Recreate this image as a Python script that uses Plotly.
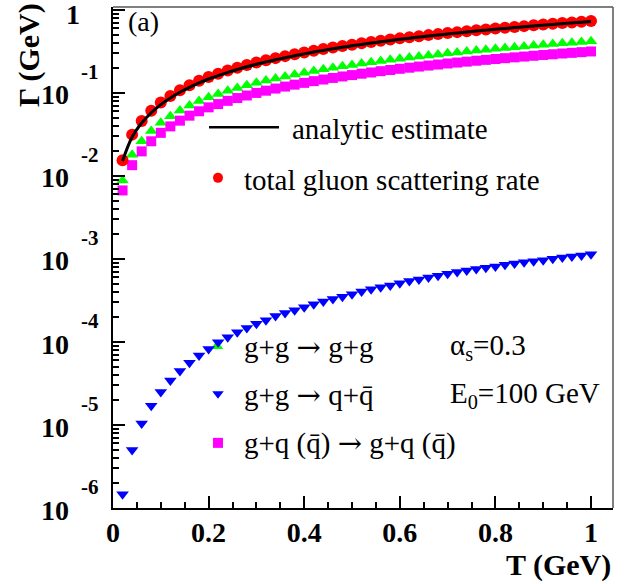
import plotly.graph_objects as go

# Temperature grid (GeV)
T = [0.02, 0.04, 0.06, 0.08, 0.10, 0.12, 0.14, 0.16, 0.18, 0.20,
     0.22, 0.24, 0.26, 0.28, 0.30, 0.32, 0.34, 0.36, 0.38, 0.40,
     0.42, 0.44, 0.46, 0.48, 0.50, 0.52, 0.54, 0.56, 0.58, 0.60,
     0.62, 0.64, 0.66, 0.68, 0.70, 0.72, 0.74, 0.76, 0.78, 0.80,
     0.82, 0.84, 0.86, 0.88, 0.90, 0.92, 0.94, 0.96, 0.98, 1.00]

# total gluon scattering rate (GeV)
rate_total = [0.0155, 0.0315, 0.046, 0.061, 0.077, 0.092, 0.108, 0.124, 0.140, 0.156,
              0.171, 0.187, 0.202, 0.217, 0.233, 0.248, 0.263, 0.278, 0.293, 0.308,
              0.323, 0.338, 0.353, 0.368, 0.382, 0.397, 0.411, 0.426, 0.440, 0.455,
              0.469, 0.484, 0.498, 0.512, 0.527, 0.541, 0.555, 0.569, 0.583, 0.597,
              0.611, 0.625, 0.639, 0.653, 0.667, 0.681, 0.695, 0.708, 0.722, 0.736]

# g+g -> g+g
rate_gg_gg = [0.0088, 0.0180, 0.0262, 0.0348, 0.0439, 0.0524, 0.0616, 0.0707, 0.0798, 0.0889,
              0.0975, 0.1066, 0.1151, 0.1237, 0.1328, 0.1414, 0.1499, 0.1585, 0.1670, 0.1756,
              0.1841, 0.1927, 0.2012, 0.2098, 0.2177, 0.2263, 0.2343, 0.2428, 0.2508, 0.2594,
              0.2673, 0.2759, 0.2839, 0.2918, 0.3004, 0.3084, 0.3164, 0.3243, 0.3323, 0.3403,
              0.3483, 0.3563, 0.3642, 0.3722, 0.3802, 0.3882, 0.3962, 0.4036, 0.4115, 0.4195]

# g+q(qbar) -> g+q(qbar)
rate_gq_gq = [0.0067, 0.0135, 0.0198, 0.0262, 0.0331, 0.0396, 0.0464, 0.0533, 0.0602, 0.0671,
              0.0735, 0.0804, 0.0869, 0.0933, 0.1002, 0.1066, 0.1131, 0.1195, 0.1260, 0.1324,
              0.1389, 0.1453, 0.1518, 0.1582, 0.1643, 0.1707, 0.1767, 0.1832, 0.1892, 0.1957,
              0.2017, 0.2081, 0.2141, 0.2202, 0.2266, 0.2326, 0.2387, 0.2447, 0.2507, 0.2567,
              0.2627, 0.2688, 0.2748, 0.2808, 0.2868, 0.2928, 0.2989, 0.3044, 0.3105, 0.3165]

# g+g -> q+qbar
rate_gg_qq = [1.46e-6, 4.99e-6, 1.04e-5, 1.70e-5, 2.50e-5, 3.44e-5, 4.46e-5, 5.61e-5, 6.86e-5, 8.24e-5,
              9.90e-5, 1.14e-4, 1.31e-4, 1.47e-4, 1.66e-4, 1.83e-4, 2.05e-4, 2.24e-4, 2.42e-4, 2.62e-4,
              2.85e-4, 3.07e-4, 3.30e-4, 3.52e-4, 3.76e-4, 4.05e-4, 4.31e-4, 4.56e-4, 4.78e-4, 5.09e-4,
              5.42e-4, 5.68e-4, 6.00e-4, 6.29e-4, 6.64e-4, 6.95e-4, 7.28e-4, 7.55e-4, 7.84e-4, 8.13e-4,
              8.51e-4, 8.83e-4, 9.16e-4, 9.42e-4, 9.69e-4, 1.005e-3, 1.04e-3, 1.07e-3, 1.10e-3, 1.14e-3]

# analytic estimate (GeV)
rate_analytic = [0.0152, 0.0295, 0.0435, 0.0578, 0.0725, 0.0872, 0.1020, 0.1170, 0.1325, 0.1475,
                 0.162, 0.177, 0.192, 0.207, 0.222, 0.237, 0.252, 0.266, 0.281, 0.296,
                 0.311, 0.326, 0.341, 0.355, 0.370, 0.385, 0.399, 0.414, 0.428, 0.443,
                 0.457, 0.472, 0.486, 0.500, 0.515, 0.529, 0.543, 0.558, 0.572, 0.586,
                 0.600, 0.614, 0.628, 0.642, 0.656, 0.670, 0.684, 0.698, 0.712, 0.726]

decade_exponents = [-1, -2, -3, -4, -5, -6]

SERIF = "Liberation Serif"
RED = "#ff0000"
GREEN = "#00ff00"
MAGENTA = "#ff00ff"
BLUE = "#0000ff"

fig = go.Figure()

# key glyphs live on a hidden unit layer underneath the data layer
key_glyphs = [
    (0.21, 0.659, "circle", 10, RED),
    (0.208, 0.323, "triangle-up", 11, GREEN),
    (0.21, 0.228, "triangle-down", 10, BLUE),
    (0.21, 0.130, "square", 10, MAGENTA),
]
for gx, gy, sym, sz, col in key_glyphs:
    fig.add_trace(go.Scatter(x=[gx], y=[gy], mode="markers", xaxis="x", yaxis="y",
                             marker=dict(symbol=sym, size=sz, color=col, line=dict(width=0)),
                             showlegend=False, hoverinfo="skip"))

# data layer
fig.add_trace(go.Scatter(x=T, y=rate_gg_gg, mode="markers", xaxis="x2", yaxis="y2",
                         marker=dict(symbol="triangle-up", size=11, color=GREEN, line=dict(width=0)),
                         showlegend=False))
fig.add_trace(go.Scatter(x=T, y=rate_gq_gq, mode="markers", xaxis="x2", yaxis="y2",
                         marker=dict(symbol="square", size=10, color=MAGENTA, line=dict(width=0)),
                         showlegend=False))
fig.add_trace(go.Scatter(x=T, y=rate_gg_qq, mode="markers", xaxis="x2", yaxis="y2",
                         marker=dict(symbol="triangle-down", size=11, color=BLUE, line=dict(width=0)),
                         showlegend=False))
fig.add_trace(go.Scatter(x=T, y=rate_total, mode="markers", xaxis="x2", yaxis="y2",
                         marker=dict(symbol="circle", size=12, color=RED, line=dict(width=0)),
                         showlegend=False))
fig.add_trace(go.Scatter(x=T, y=rate_analytic, mode="lines", xaxis="x2", yaxis="y2",
                         line=dict(color="black", width=3, shape="spline"),
                         showlegend=False))

minor_y = [k * 10.0 ** n for n in range(-6, 0) for k in range(2, 10)]

fig.update_layout(
    width=642, height=584, autosize=False,
    margin=dict(l=113, r=29, t=7, b=76, pad=0),
    paper_bgcolor="white", plot_bgcolor="white",
    font=dict(family=SERIF, color="black"),
    xaxis=dict(visible=False, range=[0, 1], fixedrange=True),
    yaxis=dict(visible=False, range=[0, 1], fixedrange=True),
    xaxis2=dict(overlaying="x", anchor="y2", side="bottom", range=[0, 1.046],
                showgrid=False, zeroline=False,
                showline=True, linecolor="black", linewidth=2,
                ticks="inside", ticklen=12, tickwidth=1.5, tickcolor="black",
                tick0=0, dtick=0.2,
                tickfont=dict(family=SERIF, size=28, weight="bold", color="black"),
                ticklabelstandoff=-2,
                minor=dict(dtick=0.05, ticks="inside", ticklen=6, tickwidth=1.5,
                           tickcolor="black", showgrid=False)),
    yaxis2=dict(overlaying="y", anchor="x2", side="left", type="log", range=[-6, 0.036],
                showgrid=False, zeroline=False,
                showline=True, linecolor="black", linewidth=2,
                ticks="inside", ticklen=12, tickwidth=1.5, tickcolor="black",
                tickvals=[10.0 ** e for e in range(-6, 1)], showticklabels=False,
                minor=dict(tickvals=minor_y, ticks="inside", ticklen=6, tickwidth=1.5,
                           tickcolor="black", showgrid=False)),
)

# thin upper and right frame edges
fig.add_shape(type="line", xref="paper", yref="paper", x0=0, x1=1, y0=1, y1=1,
              line=dict(color="#555555", width=1.5))
fig.add_shape(type="line", xref="paper", yref="paper", x0=1, x1=1, y0=0, y1=1,
              line=dict(color="#555555", width=1.5))

# key line sample
fig.add_shape(type="line", xref="paper", yref="paper", x0=0.192, x1=0.332, y0=0.760, y1=0.760,
              line=dict(color="black", width=2.5))

ann = []
# decade labels on the log axis
for e in decade_exponents:
    ann.append(dict(text="<b>10</b>", xref="paper", yref="y2", x=0, y=e,
                    xanchor="right", yanchor="middle", xshift=-42, yshift=-2,
                    showarrow=False, font=dict(family=SERIF, size=28, color="black")))
    ann.append(dict(text="<b>%d</b>" % e, xref="paper", yref="y2", x=0, y=e,
                    xanchor="left", yanchor="middle", xshift=-34, yshift=21,
                    showarrow=False, font=dict(family=SERIF, size=21, color="black")))
ann.append(dict(text="<b>1</b>", xref="paper", yref="y2", x=0, y=0,
                xanchor="right", yanchor="middle", xshift=-31, yshift=-5,
                showarrow=False, font=dict(family=SERIF, size=28, color="black")))

# axis titles
ann.append(dict(text="<b>Γ (GeV)</b>", xref="paper", yref="paper", x=0, y=1,
                xanchor="center", yanchor="top", xshift=-84, yshift=6, textangle=-90,
                showarrow=False, font=dict(family=SERIF, size=30, color="black")))
ann.append(dict(text="<b>T (GeV)</b>", xref="paper", yref="paper", x=1, y=0,
                xanchor="right", yanchor="middle", yshift=-57,
                showarrow=False, font=dict(family=SERIF, size=30, color="black")))

# panel tag
ann.append(dict(text="(a)", xref="paper", yref="paper", x=0, y=1,
                xanchor="left", yanchor="middle", xshift=13, yshift=-14,
                showarrow=False, font=dict(family=SERIF, size=28, color="black")))

# key texts
ARROW = "<span style='font-family:DejaVu Serif'>→</span>"
key_texts = [
    ("analytic estimate", 0.354, 0.756),
    ("total gluon scattering rate", 0.258, 0.655),
    ("g+g " + ARROW + " g+g", 0.258, 0.321),
    ("g+g " + ARROW + " q+q\u0304", 0.258, 0.226),
    ("g+q (q\u0304) " + ARROW + " g+q (q\u0304)", 0.258, 0.130),
    ("α<sub>s</sub>=0.3", 0.67, 0.321),
    ("E<sub>0</sub>=100 GeV", 0.67, 0.226),
]
for txt, tx, ty in key_texts:
    ann.append(dict(text=txt, xref="paper", yref="paper", x=tx, y=ty,
                    xanchor="left", yanchor="middle", showarrow=False,
                    font=dict(family=SERIF, size=29, color="black")))

fig.update_layout(annotations=ann)

fig.write_html("out.html")
